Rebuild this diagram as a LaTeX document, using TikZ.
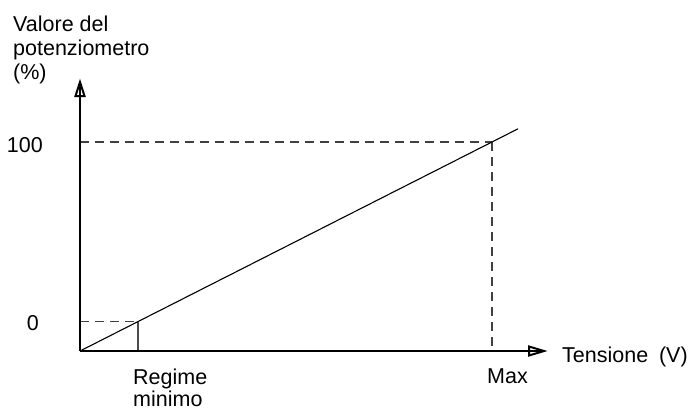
\documentclass[tikz,border=0pt]{standalone}
\usepackage{fontspec}
\setmainfont{Liberation Sans}
\begin{document}
\begin{tikzpicture}[x=1pt,y=-1pt,
  lbl/.style={inner sep=0pt,font=\fontsize{21.5}{24}\selectfont},
  axisline/.style={line width=2.4pt},
  arrowhead/.style={line width=2pt,line join=miter},
  guide/.style={line width=1.2pt,draw=black!75,dash pattern=on 9pt off 6pt},
  tick/.style={line width=1.2pt,draw=black!70},
  curve/.style={line width=1.1pt}]
\useasboundingbox (0,0) rectangle (688,410);
\coordinate (O) at (80,351);
\coordinate (Ytop) at (80,82);
\coordinate (Xend) at (544,351);
\coordinate (p0y) at (80,321.6);
\coordinate (p0) at (138,321.6);
\coordinate (p0x) at (138,351);
\coordinate (p100y) at (80,142);
\coordinate (p100) at (492,142);
\coordinate (p100x) at (492,351);
\coordinate (Lend) at (518,128.8);
% guides
\draw[guide] (p0y) -- (p0);
\draw[tick] (p0) -- (p0x);
\draw[guide] (p100y) -- (p100);
\draw[guide] (p100) -- (p100x);
% characteristic line
\draw[curve] (O) -- (Lend);
% axes
\draw[axisline] (O) -- ([yshift=-4pt]Ytop);
\draw[axisline] (O) -- ([xshift=-4pt]Xend);
\draw[arrowhead] (Ytop) -- ++(-4.5,14) -- ++(9,0) -- cycle;
\draw[arrowhead] (Xend) -- ++(-15,-4.5) -- ++(0,9) -- cycle;
% labels
\node[lbl,anchor=base west] (t1) at (13,31) {Valore del};
\node[lbl,anchor=base west] (t2) at (13,55) {potenziometro};
\node[lbl,anchor=base west] (t3) at (13,79) {(\%)};
\node[lbl,anchor=base east] (n100) at (43,152) {100};
\node[lbl,anchor=base east] (n0) at (39,330) {0};
\node[lbl,anchor=base west] (r1) at (133,384) {Regime};
\node[lbl,anchor=base west] (r2) at (133,406) {minimo};
\node[lbl,anchor=base west] (mx) at (487,383) {Max};
\node[lbl,anchor=base west] (xl) at (562,362) {Tensione\hspace{0.5em}(V)};
\end{tikzpicture}
\end{document}
